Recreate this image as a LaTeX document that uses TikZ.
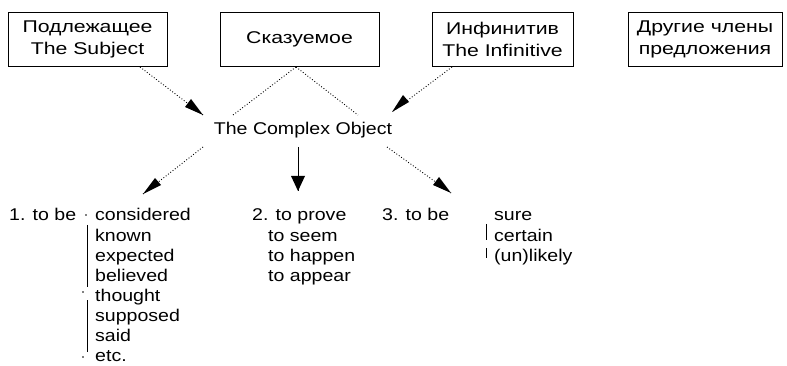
\documentclass[tikz,border=0pt]{standalone}
\usepackage{fontspec}
\setmainfont[FakeStretch=1.15]{Liberation Sans}
\newfontfamily\boxfont[FakeStretch=1.25]{Liberation Sans}
\usetikzlibrary{arrows.meta}
\begin{document}
\begin{tikzpicture}[x=1pt,y=-1pt,
  txt/.style={font=\fontsize{17}{22}\selectfont, inner sep=0pt, anchor=base west},
  boxnode/.style={draw, line width=0.8pt, minimum height=54pt, inner sep=0pt, align=center, font=\boxfont\fontsize{17}{22}\selectfont},
  dotline/.style={dotted, line width=0.9pt}
]
\useasboundingbox (0,0) rectangle (787,366);
% top boxes
\node[boxnode, minimum width=159pt] (b1) at (87.5,39) {Подлежащее\\The Subject};
\node[boxnode, minimum width=159pt] (b2) at (299.5,39) {Сказуемое};
\node[boxnode, minimum width=141pt] (b3) at (502.5,39) {Инфинитив\\The Infinitive};
\node[boxnode, minimum width=154pt] (b4) at (705,39) {Другие члены\\предложения};
% central node
\node[font=\fontsize{17}{22}\selectfont, inner sep=0pt] (co) at (303,130) {The Complex Object};
% free ends
\coordinate (s1) at (140,67);
\coordinate (e1) at (203,115);
\coordinate (s2) at (296,67);
\coordinate (e2l) at (233,115);
\coordinate (e2r) at (358,115);
\coordinate (s3) at (452,67);
\coordinate (e3) at (392,112);
\coordinate (c1) at (203,147);
\coordinate (t1) at (143,194);
\coordinate (c2) at (298,147);
\coordinate (t2) at (298,191);
\coordinate (c3) at (387,147);
\coordinate (t3) at (451,193);
\draw[dotline] (s1) -- (e1);
\draw[dotline] (s2) -- (e2l);
\draw[dotline] (s2) -- (e2r);
\draw[dotline] (s3) -- (e3);
\draw[dotline] (c1) -- (t1);
\draw[line width=0.9pt] (c2) -- (t2);
\draw[dotline] (c3) -- (t3);
\fill (e1) -- ++(-18,-8) -- ++(6,-8) -- cycle;
\fill (e3) -- ++(17,-10) -- ++(-6,-7) -- cycle;
\fill (t1) -- ++(18,-9) -- ++(-6,-7) -- cycle;
\fill (t2) -- ++(-7,-15) -- ++(14,0) -- cycle;
\fill (t3) -- ++(-18,-8) -- ++(6,-8) -- cycle;
% list 1
\node[txt] (l1) at (9,221) {1. to be};
\node[txt] (l1a) at (95,221) {considered};
\node[txt] (l1b) at (95,241) {known};
\node[txt] (l1c) at (95,261) {expected};
\node[txt] (l1d) at (95,281) {believed};
\node[txt] (l1e) at (95,301) {thought};
\node[txt] (l1f) at (95,321) {supposed};
\node[txt] (l1g) at (95,341) {said};
\node[txt] (l1h) at (95,361) {etc.};
\draw[line width=0.9pt] (87,225) -- (87,287);
\draw[line width=0.9pt] (87,300) -- (87,352);
\fill (83,292) circle (0.9);
\fill (83,357) circle (0.9);
\fill (86,215) circle (0.9);
% list 2
\node[txt] (l2) at (252,221) {2. to prove};
\node[txt] (l2a) at (268,241) {to seem};
\node[txt] (l2b) at (268,261) {to happen};
\node[txt] (l2c) at (268,281) {to appear};
% list 3
\node[txt] (l3) at (382,221) {3. to be};
\node[txt] (l3a) at (494,221) {sure};
\node[txt] (l3b) at (494,241) {certain};
\node[txt] (l3c) at (494,261) {(un)likely};
\draw[line width=0.9pt] (486,224) -- (486,240);
\draw[line width=0.9pt] (486,248) -- (486,258);
\end{tikzpicture}
\end{document}
